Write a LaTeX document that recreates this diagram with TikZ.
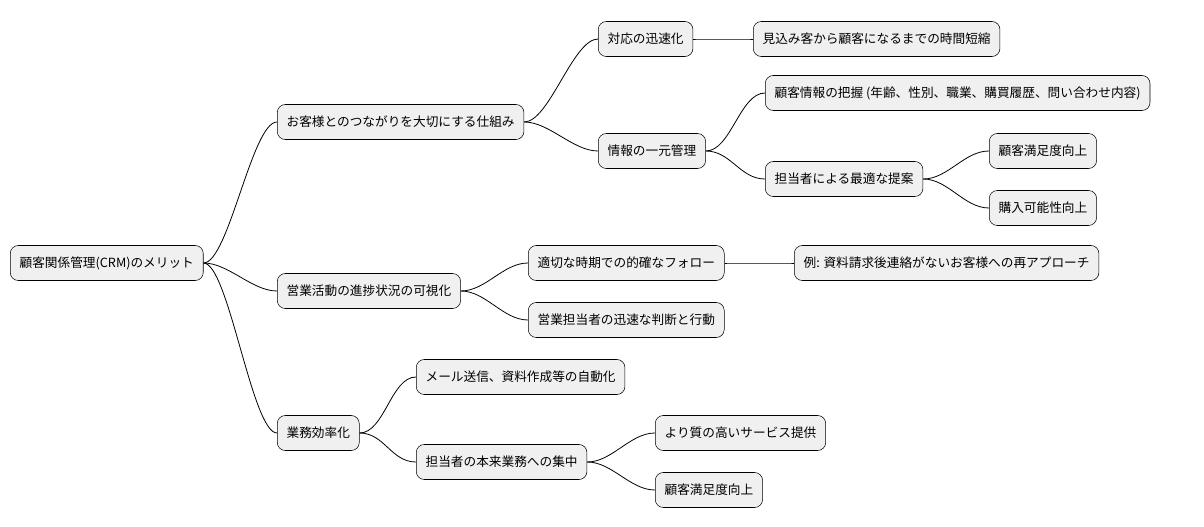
\documentclass[tikz,border=0pt]{standalone}
\usepackage{fontspec}
\setmainfont{Noto Sans CJK JP}
\usetikzlibrary{positioning}
\tikzset{
  topic/.style={draw, rounded corners=6pt, fill=black!6, anchor=west,
    minimum height=26.25pt, inner xsep=7pt, font=\fontsize{9.5}{11}\selectfont},
  link/.style={draw, line width=0.6pt}
}
\begin{document}
\begin{tikzpicture}[x=0.75pt, y=-0.75pt]
\useasboundingbox (0,0) rectangle (1204,527);
% nodes: name / left x / centre y / text
\foreach \n/\x/\y/\t in {
  root/10/263/{顧客関係管理(CRM)のメリット},
  a/277/122/{お客様とのつながりを大切にする仕組み},
  b/277/291/{営業活動の進捗状況の可視化},
  c/277/433/{業務効率化},
  a1/598/39/{対応の迅速化},
  a1x/753/39/{見込み客から顧客になるまでの時間短縮},
  a2/598/151/{情報の一元管理},
  a2x/765/93/{顧客情報の把握 (年齢、性別、職業、購買履歴、問い合わせ内容)},
  a2y/765/179/{担当者による最適な提案},
  a2y1/989/151/{顧客満足度向上},
  a2y2/989/208/{購入可能性向上},
  b1/528/263/{適切な時期での的確なフォロー},
  b1x/794/263/{例: 資料請求後連絡がないお客様への再アプローチ},
  b2/528/320/{営業担当者の迅速な判断と行動},
  c1/416/377/{メール送信、資料作成等の自動化},
  c2/416/462/{担当者の本来業務への集中},
  c2x/655/433/{より質の高いサービス提供},
  c2y/655/490/{顧客満足度向上}}
{
  \node[topic] (\n) at (\x,\y) {\t};
}
% connectors
\foreach \p/\c in {root/a, root/b, root/c, a/a1, a/a2, a1/a1x, a2/a2x, a2/a2y,
  a2y/a2y1, a2y/a2y2, b/b1, b/b2, b1/b1x, c/c1, c/c2, c2/c2x, c2/c2y}
{
  \draw[link] (\p.east) .. controls +(25,0) and +(-25,0) .. (\c.west);
}
\end{tikzpicture}
\end{document}
